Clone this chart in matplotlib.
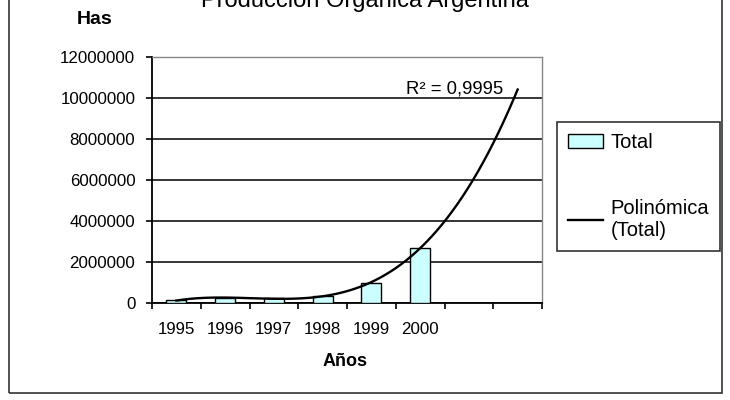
import numpy as np
import matplotlib
matplotlib.use("Agg")
import matplotlib.pyplot as plt
from matplotlib.patches import Rectangle

plt.rcParams['font.family'] = ['Liberation Sans', 'DejaVu Sans']

# data
years = ['1995', '1996', '1997', '1998', '1999', '2000', '', '']
hectares = [130000, 230000, 240000, 330000, 1000000, 2680000]
r2_label = 'R² = 0,9995'

W, H = 730, 400
fig = plt.figure(figsize=(W / 100, H / 100), dpi=100)

def fx(px):
    return px / W

def fy(py):
    return 1 - py / H

# outer chart border (top edge is cut off in the original)
fig.patches.append(Rectangle((fx(8.5), fy(393)), fx(721.5) - fx(8.5), fy(-20) - fy(393),
                             transform=fig.transFigure, fill=False,
                             edgecolor='#333333', linewidth=1.2))

ax = fig.add_axes([fx(152), fy(303), fx(542) - fx(152), fy(57) - fy(303)])

pos = np.arange(1, len(years) + 1)
x_data = pos[:len(hectares)]
bars = ax.bar(x_data, hectares, width=0.41, color='#CCFFFF',
              edgecolor='black', linewidth=1.0, zorder=3, label='Total')

# third order polynomial trend, extended two periods forward
coef = np.polyfit(x_data, hectares, 3)
xt = np.linspace(1, 8, 200)
trend, = ax.plot(xt, np.polyval(coef, xt), color='black', lw=1.7, zorder=4,
                 label='Polinómica\n(Total)')

ax.set_xlim(0.5, 8.5)
ax.set_ylim(0, 12000000)
ax.set_yticks(np.arange(0, 12000001, 2000000))
ax.set_yticklabels([str(v) for v in range(0, 12000001, 2000000)])
ax.yaxis.grid(True, color='black', lw=1.1, zorder=1)
ax.set_axisbelow(True)

ax.set_xticks(np.arange(0.5, 9, 1))
ax.set_xticklabels([])
ax.set_xticks(pos, minor=True)
ax.set_xticklabels(years, minor=True)
ax.tick_params(axis='x', which='minor', length=0, pad=14, labelsize=12.2)
ax.tick_params(axis='x', which='major', direction='out', length=4, width=1.2)
ax.tick_params(axis='y', direction='out', length=4, width=1.2, pad=8, labelsize=12.2)

for s in ['top', 'right']:
    ax.spines[s].set_color('#888888')
    ax.spines[s].set_linewidth(1.0)
for s in ['left', 'bottom']:
    ax.spines[s].set_color('black')
    ax.spines[s].set_linewidth(1.3)

ax.text(fx(503), fy(89), r2_label, transform=fig.transFigure,
        ha='right', va='center', fontsize=13.3)

fig.text(fx(365), fy(7), 'Producción Orgánica Argentina', ha='center',
         va='baseline', fontsize=17)
fig.text(fx(95), fy(20), 'Has', ha='center', va='center', fontsize=14,
         fontweight='bold')
fig.text(fx(345), fy(362), 'Años', ha='center', va='center', fontsize=13,
         fontweight='bold')

leg = ax.legend(handles=[bars, trend], loc='upper left',
                bbox_to_anchor=(fx(557), fy(122)), bbox_transform=fig.transFigure,
                fontsize=14.5, frameon=True, fancybox=False, edgecolor='black',
                borderpad=0.55, labelspacing=2.35, handlelength=1.75,
                handletextpad=0.35, borderaxespad=0)
leg.get_frame().set_linewidth(1.2)

fig.savefig('out.png', dpi=100)
